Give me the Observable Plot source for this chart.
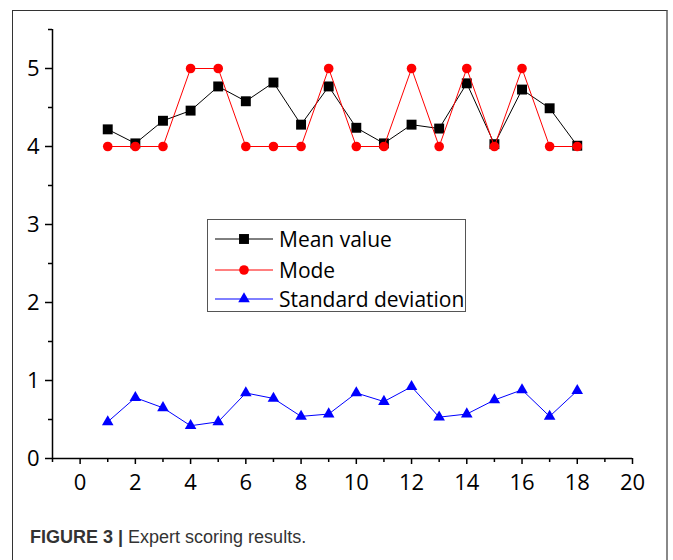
<!DOCTYPE html>
<html><head><meta charset="utf-8">
<script src="https://cdn.jsdelivr.net/npm/d3@7"></script>
<script src="https://cdn.jsdelivr.net/npm/@observablehq/plot@0.6"></script>
<style>
body{margin:0;background:#fff;}
#wrap{position:relative;width:673px;height:560px;overflow:hidden;background:#fff;}
#frame{position:absolute;left:12px;top:10px;width:656px;height:600px;border-left:1.5px solid #333;border-top:1.5px solid #333;border-right:2.5px solid #888;box-sizing:border-box;}
#chart{position:absolute;left:0;top:0;}
#legend{position:absolute;left:207px;top:219px;width:259px;height:93px;border:1px solid #555;box-sizing:border-box;background:#fff;font-family:"Open Sans",sans-serif;font-size:21px;color:#000;}
.row{position:absolute;left:0;height:30px;display:flex;align-items:center;}
.row svg{margin-left:7px;}
.row span{margin-left:6px;white-space:nowrap;}
#caption{position:absolute;left:30px;top:527px;font-family:"Liberation Sans",Arial,sans-serif;font-size:18px;color:#333;}
#caption b{font-weight:bold;}
</style>
</head><body>
<div id="wrap">
  <div id="frame"></div>
  <div id="chart"></div>
  <div id="legend"></div>
  <div id="caption"><b>FIGURE 3 |</b> Expert scoring results.</div>
</div>
<script>
const xs = [1,2,3,4,5,6,7,8,9,10,11,12,13,14,15,16,17,18];
const meanValues = [4.22,4.04,4.33,4.46,4.77,4.58,4.82,4.28,4.77,4.24,4.04,4.28,4.23,4.81,4.03,4.73,4.49,4.01];
const modeValues = [4,4,4,5,5,4,4,4,5,4,4,5,4,5,4,5,4,4];
const sdValues = [0.47,0.78,0.65,0.42,0.47,0.84,0.77,0.54,0.57,0.84,0.73,0.92,0.53,0.57,0.75,0.88,0.54,0.87];
const seriesNames = ["Mean value","Mode","Standard deviation"];
const seriesColors = ["#000000","#ff0000","#0000ff"];
const seriesSymbols = ["square","circle","triangle"];
const xMajorTicks = [0,2,4,6,8,10,12,14,16,18,20];
const xMinorTicks = [-1,1,3,5,7,9,11,13,15,17,19];
const yMajorTicks = [0,1,2,3,4,5];
const yMinorTicks = [0.5,1.5,2.5,3.5,4.5,5.5];
const xDomain = [-1,20];
const yDomain = [0,5.5];

const seriesValues = [meanValues, modeValues, sdValues];
const seriesR = [5.6, 4.8, 4.3];

const marks = [
  Plot.ruleY([0], {stroke:"#000", strokeWidth:1.5}),
  Plot.ruleX([-1], {stroke:"#000", strokeWidth:1.5}),
  Plot.axisX({ticks:xMajorTicks, tickSize:6, tickPadding:10, tickFormat:d=>String(d), strokeWidth:1.5, strokeOpacity:1, label:null}),
  Plot.axisX({ticks:xMinorTicks, tickSize:4, text:null, strokeWidth:1.5, strokeOpacity:1, label:null}),
  Plot.axisY({ticks:yMajorTicks, tickSize:7, tickPadding:6, tickFormat:d=>String(d), strokeWidth:1.5, strokeOpacity:1, label:null}),
  Plot.axisY({ticks:yMinorTicks, tickSize:4, text:null, strokeWidth:1.5, strokeOpacity:1, label:null})
];
seriesValues.forEach((vals, i) => {
  const data = xs.map((x, j) => ({x, y: vals[j]}));
  marks.push(Plot.line(data, {x:"x", y:"y", stroke:seriesColors[i], strokeWidth:1}));
  marks.push(Plot.dot(data, {x:"x", y:"y", symbol:seriesSymbols[i], fill:seriesColors[i], stroke:"none", r:seriesR[i]}));
});

const chart = Plot.plot({
  width:673, height:500,
  marginLeft:52, marginRight:41, marginTop:29, marginBottom:42,
  x:{domain:xDomain, axis:null},
  y:{domain:yDomain, axis:null},
  style:{fontFamily:"'Open Sans', sans-serif", fontSize:"22px", color:"#000", background:"transparent"},
  marks
});
document.getElementById("chart").appendChild(chart);

// legend
const legend = document.getElementById("legend");
const rowTops = [4, 35, 64];
seriesNames.forEach((name, i) => {
  const row = document.createElement("div");
  row.className = "row";
  row.style.top = rowTops[i] + "px";
  const svg = d3.create("svg").attr("width", 58).attr("height", 20);
  svg.append("line").attr("x1",0).attr("x2",58).attr("y1",10).attr("y2",10).attr("stroke",seriesColors[i]).attr("stroke-width",1);
  const sym = {square:d3.symbolSquare, circle:d3.symbolCircle, triangle:d3.symbolTriangle}[seriesSymbols[i]];
  svg.append("path").attr("transform","translate(29,10)").attr("d", d3.symbol(sym, Math.PI*seriesR[i]*seriesR[i])()).attr("fill",seriesColors[i]);
  row.appendChild(svg.node());
  const span = document.createElement("span");
  span.textContent = name;
  row.appendChild(span);
  legend.appendChild(row);
});
</script>
</body></html>
